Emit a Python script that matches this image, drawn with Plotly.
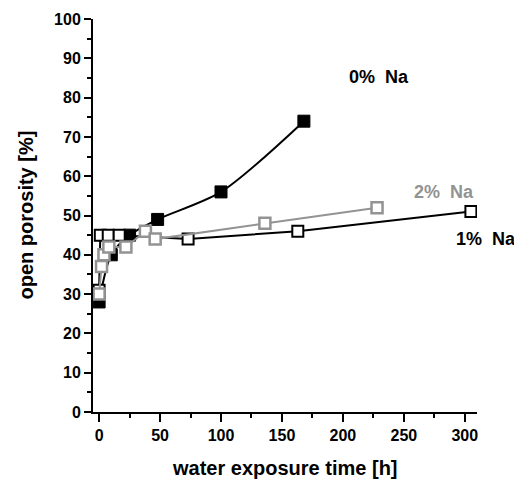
import plotly.graph_objects as go

# 0% Na (filled black squares)
t0 = [0, 10, 25, 48, 100, 168]
p0 = [28, 40, 45, 49, 56, 74]
# 1% Na (open squares, black)
t1 = [0, 1, 7.5, 16.5, 73, 163, 305]
p1 = [31, 45, 45, 45, 44, 46, 51]
# 2% Na (open squares, gray)
t2 = [0, 2, 4, 8, 22, 38, 46, 136, 228]
p2 = [30, 37, 40, 42, 42, 46, 44, 48, 52]

x_ticks = [0, 50, 100, 150, 200, 250, 300]
y_ticks = [0, 10, 20, 30, 40, 50, 60, 70, 80, 90, 100]

labels = ["0% Na", "1% Na", "2% Na"]
label_pos = [(230, 85.3), (317, 44), (283, 56)]
gray = "#939393"

xr = [-5, 310]
yr = [0, 100]

fig = go.Figure()
fig.add_trace(go.Scatter(
    x=t0, y=p0, mode="lines+markers",
    line=dict(color="black", width=2, shape="spline", smoothing=0.8),
    marker=dict(symbol="square", size=12, color="black", line=dict(color="black", width=1)),
))
fig.add_trace(go.Scatter(
    x=t1, y=p1, mode="lines+markers",
    line=dict(color="black", width=2),
    marker=dict(symbol="square", size=11, color="white", line=dict(color="black", width=2)),
))
fig.add_trace(go.Scatter(
    x=t2, y=p2, mode="lines+markers",
    line=dict(color=gray, width=2),
    marker=dict(symbol="square", size=11, color="white", line=dict(color=gray, width=2.5)),
))

font_fam = "Liberation Sans, Arial, sans-serif"
colors = ["black", "black", gray]
for lab, (ax, ay), c in zip(labels, label_pos, colors):
    fig.add_annotation(
        x=(ax - xr[0]) / (xr[1] - xr[0]), y=(ay - yr[0]) / (yr[1] - yr[0]),
        xref="paper", yref="paper", xanchor="center", yanchor="middle",
        text="<b>%s</b>" % lab.replace(" ", "&nbsp;&nbsp;"), showarrow=False,
        font=dict(family=font_fam, size=18, color=c))

# axis titles
fig.add_annotation(x=0.5, y=0, xref="paper", yref="paper", yshift=-56,
                   xanchor="center", yanchor="middle",
                   text="<b>water exposure time [h]</b>", showarrow=False,
                   font=dict(family=font_fam, size=20, color="black"))
fig.add_annotation(x=0, y=0.5, xref="paper", yref="paper", xshift=-68,
                   text="<b>open porosity [%]</b>", showarrow=False, textangle=-90,
                   xanchor="center", yanchor="middle",
                   font=dict(family=font_fam, size=20, color="black"))

fig.update_layout(
    width=514, height=474,
    margin=dict(l=85, r=45, t=11, b=70),
    paper_bgcolor="white", plot_bgcolor="white",
    showlegend=False,
    font=dict(family=font_fam, size=16, color="black"),
)
fig.update_xaxes(
    range=xr, tickvals=x_ticks, ticktext=["<b>%d</b>" % v for v in x_ticks],
    automargin=False,
    showgrid=False, zeroline=False, showline=True, linecolor="black", linewidth=2,
    ticks="outside", ticklen=8, tickwidth=2, tickcolor="black",
    minor=dict(dtick=25, tick0=0, ticks="outside", ticklen=4, tickwidth=2, tickcolor="black"),
    tickfont=dict(size=16),
)
fig.update_yaxes(
    range=yr, tickvals=y_ticks, ticktext=["<b>%d</b>" % v for v in y_ticks],
    automargin=False,
    showgrid=False, zeroline=False, showline=True, linecolor="black", linewidth=2,
    ticks="outside", ticklen=7, tickwidth=2, tickcolor="black",
    minor=dict(dtick=5, tick0=0, ticks="outside", ticklen=4, tickwidth=2, tickcolor="black"),
    tickfont=dict(size=16),
)

fig.write_html("out.html")
